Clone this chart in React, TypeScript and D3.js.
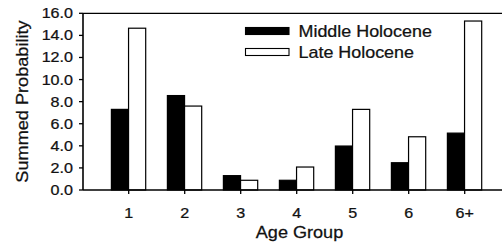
import React, { useEffect, useRef } from "react";
import * as d3 from "d3";

const ageGroups = ["1", "2", "3", "4", "5", "6", "6+"];
const middleHolocene = [7.3, 8.55, 1.3, 0.88, 3.98, 2.47, 5.15];
const lateHolocene = [14.65, 7.6, 0.88, 2.08, 7.3, 4.82, 15.3];
const seriesNames = ["Middle Holocene", "Late Holocene"];
const seriesFills = ["#000000", "#ffffff"];
const yTicks = [0, 2, 4, 6, 8, 10, 12, 14, 16];

const FONT = "'Liberation Sans', Arial, Helvetica, sans-serif";
const STRETCH = 1.15; // the scanned figure is a bit wider than tall

const App: React.FC = () => {
  const svgRef = useRef<SVGSVGElement>(null);

  useEffect(() => {
    if (!svgRef.current) return;
    const svg = d3.select(svgRef.current);
    svg.selectAll("*").remove();

    const left = 83;
    const right = 503;
    const top = 13.3;
    const bottom = 190;

    const x = d3.scalePoint<string>().domain(ageGroups).range([128.7, 464.7]);
    const xs = d3.scaleBand<string>().domain(seriesNames).range([-17.3, 17]);
    const y = d3.scaleLinear().domain([0, 16]).range([bottom, top]);

    const values = [middleHolocene, lateHolocene];

    // bars
    seriesNames.forEach((name, si) => {
      svg
        .append("g")
        .selectAll("rect")
        .data(values[si])
        .enter()
        .append("rect")
        .attr("x", (_, i) => (x(ageGroups[i]) as number) + (xs(name) as number))
        .attr("width", xs.bandwidth())
        .attr("y", (d) => y(d))
        .attr("height", (d) => bottom - y(d))
        .attr("fill", seriesFills[si])
        .attr("stroke", "#000")
        .attr("stroke-width", 1.2);
    });

    // frame lines
    svg.append("line").attr("x1", left).attr("x2", right).attr("y1", top).attr("y2", top)
      .attr("stroke", "#000").attr("stroke-width", 1.3);
    svg.append("line").attr("x1", left).attr("x2", right).attr("y1", bottom).attr("y2", bottom)
      .attr("stroke", "#000").attr("stroke-width", 1.6);
    svg.append("line").attr("x1", left).attr("x2", left).attr("y1", top).attr("y2", bottom)
      .attr("stroke", "#000").attr("stroke-width", 1.6);

    const textStyle = (sel: d3.Selection<SVGTextElement, unknown, null, undefined>, size: number) =>
      sel
        .style("font-family", FONT)
        .style("font-size", `${size}px`)
        .attr("fill", "#111")
        .attr("stroke", "#111")
        .attr("stroke-width", 0.25);

    // y ticks
    const yAxis = svg.append("g");
    yTicks.forEach((t) => {
      yAxis.append("line").attr("x1", left - 4).attr("x2", left).attr("y1", y(t)).attr("y2", y(t))
        .attr("stroke", "#000").attr("stroke-width", 1.3);
      textStyle(
        yAxis.append("text")
          .attr("transform", `translate(73,${y(t) + 5}) scale(${STRETCH},1)`)
          .attr("text-anchor", "end")
          .text(t.toFixed(1)) as any,
        14
      );
    });

    // x ticks
    const xAxis = svg.append("g");
    ageGroups.forEach((g) => {
      const cx = x(g) as number;
      xAxis.append("line").attr("x1", cx).attr("x2", cx).attr("y1", bottom).attr("y2", bottom + 4)
        .attr("stroke", "#000").attr("stroke-width", 1.3);
      textStyle(
        xAxis.append("text")
          .attr("transform", `translate(${cx},218) scale(${STRETCH},1)`)
          .attr("text-anchor", "middle")
          .text(g) as any,
        14
      );
    });

    // axis titles
    textStyle(
      svg.append("text")
        .attr("transform", `translate(299.5,238) scale(1.13,1)`)
        .attr("text-anchor", "middle")
        .text("Age Group") as any,
      16
    );

    textStyle(
      svg.append("text")
        .attr("transform", `translate(28,101.5) rotate(-90) scale(1.1,1)`)
        .attr("text-anchor", "middle")
        .text("Summed Probability") as any,
      16.5
    );

    // legend
    const legend = svg.append("g");
    const legendY = [27.5, 48.5];
    const legendTextY = [36.5, 58];
    seriesNames.forEach((name, si) => {
      legend.append("rect")
        .attr("x", 245.5).attr("y", legendY[si])
        .attr("width", 43.5).attr("height", 7)
        .attr("fill", seriesFills[si])
        .attr("stroke", "#000").attr("stroke-width", 1.1);
      textStyle(
        legend.append("text")
          .attr("transform", `translate(298.5,${legendTextY[si]}) scale(1.12,1)`)
          .text(name) as any,
        16
      );
    });
  }, []);

  return (
    <div style={{ position: "fixed", left: 0, top: 0, width: 502, height: 244, background: "#fff" }}>
      <svg ref={svgRef} width={502} height={244} style={{ display: "block" }}></svg>
    </div>
  );
};

export default App;
